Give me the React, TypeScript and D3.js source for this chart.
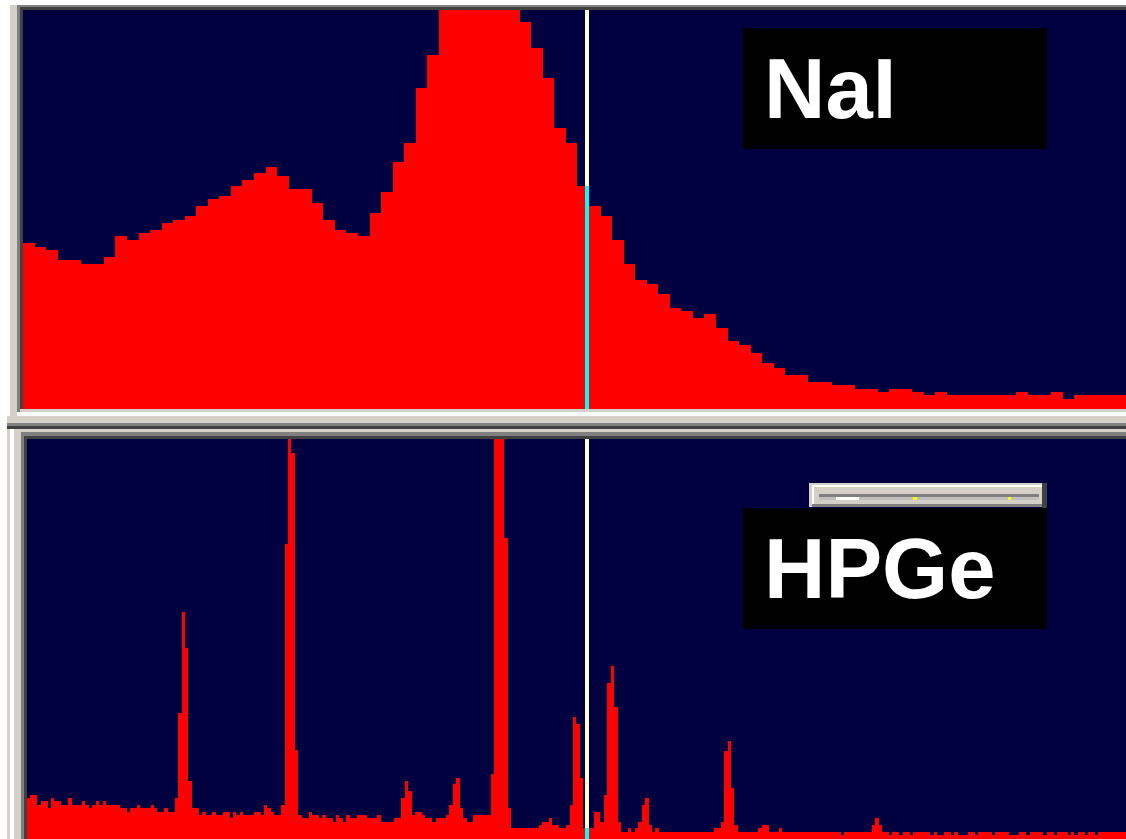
import * as d3 from "d3";
import React from "react";

// NaI spectrum, counts per channel (top panel, peak is off scale)
const naiCounts = [
  166, 162, 159, 149, 149, 145, 145, 152, 173, 169,
  176, 179, 186, 189, 193, 203, 210, 213, 223, 229,
  236, 242, 233, 220, 220, 206, 189, 179, 176, 173,
  196, 217, 247, 266, 321, 354, 415, 445, 468, 476,
  462, 437, 408, 387, 361, 331, 281, 266, 223, 203,
  193, 169, 145, 129, 125, 115, 101, 98, 91, 95,
  81, 68, 64, 56, 46, 41, 34, 34, 27, 27,
  24, 24, 20, 20, 17, 20, 20, 17, 14, 17,
  14, 14, 14, 14, 14, 14, 17, 14, 14, 17,
  10, 14, 14, 14, 14, 14,
];

// HPGe spectrum, counts per channel (bottom panel)
const hpgeCounts = [
  41, 44, 44, 34, 38, 38, 31, 41, 38, 38,
  34, 34, 41, 34, 34, 34, 38, 34, 31, 34,
  38, 34, 38, 34, 34, 34, 34, 31, 31, 27,
  31, 31, 34, 31, 31, 31, 34, 31, 27, 27,
  31, 27, 27, 41, 126, 227, 191, 58, 31, 31,
  24, 27, 24, 24, 27, 24, 24, 27, 27, 21,
  27, 24, 27, 24, 24, 24, 27, 27, 24, 34,
  31, 27, 24, 24, 34, 295, 480, 386, 89, 24,
  21, 21, 27, 24, 24, 21, 24, 21, 21, 17,
  24, 21, 17, 24, 21, 21, 24, 24, 24, 21,
  21, 21, 24, 17, 17, 17, 17, 21, 21, 41,
  58, 48, 24, 27, 27, 24, 21, 21, 17, 21,
  21, 21, 24, 34, 55, 61, 31, 21, 17, 17,
  24, 24, 24, 24, 24, 65, 470, 500, 450, 301,
  31, 11, 11, 11, 11, 11, 11, 11, 11, 14,
  17, 17, 21, 14, 14, 11, 11, 14, 34, 122,
  115, 61, 11, 11, 11, 27, 27, 17, 44, 156,
  173, 132, 17, 7, 7, 11, 7, 11, 17, 34,
  41, 14, 7, 11, 7, 7, 7, 7, 7, 7,
  7, 7, 7, 7, 7, 7, 7, 7, 7, 7,
  11, 11, 17, 88, 98, 51, 14, 7, 7, 7,
  7, 7, 7, 11, 14, 14, 7, 7, 7, 11,
  7, 7, 7, 7, 7, 7, 7, 7, 7, 7,
  7, 7, 7, 7, 7, 7, 7, 4, 7, 7,
  7, 7, 7, 7, 7, 7, 14, 21, 14, 7,
  7, 4, 7, 7, 4, 7, 7, 4, 7, 7,
  7, 7, 7, 4, 7, 4, 4, 7, 7, 4,
  7, 4, 4, 4, 7, 7, 4, 7, 7, 7,
  7, 4, 7, 7, 7, 7, 4, 4, 4, 7,
  7, 4, 7, 7, 7, 7, 4, 7, 7, 4,
  7, 7, 7, 4, 7, 4, 7, 7, 4, 7,
  7, 4, 7, 7, 7, 7, 7, 7, 7, 7,
];

const detectorLabels = ["NaI", "HPGe"];
const cursorChannels = [48.66, 162.5]; // cursor position in each panel, channels

const NAVY = "#000040";
const LGRAY = "#d4d0c8";
const GRAY = "#808080";
const DARK = "#404040";

const W = 1126;
const H = 839;

function Spectrum({ id, counts, cursor, x0, y0, x1, y1, binW, yMax }) {
  const x = d3.scaleLinear().domain([0, counts.length]).range([x0, x0 + counts.length * binW]);
  const y = d3.scaleLinear().domain([0, yMax]).range([y1, y0]);

  const area = d3
    .area<number>()
    .x((d, i) => x(i))
    .y0(y(0))
    .y1((d) => y(d))
    .curve(d3.curveStepAfter);

  const pts = counts.concat([counts[counts.length - 1]]);
  const cx = x(cursor);
  const cv = counts[Math.floor(cursor)];

  return (
    <g>
      <clipPath id={id}>
        <rect x={x0} y={y0} width={x1 - x0} height={y1 - y0} />
      </clipPath>
      <rect x={x0} y={y0} width={x1 - x0} height={y1 - y0} fill={NAVY} />
      <g clipPath={`url(#${id})`}>
        <path d={area(pts)} fill="#ff0000" shapeRendering="crispEdges" />
        <rect x={cx} y={y0} width={4} height={y1 - y0} fill="#ffffcc" shapeRendering="crispEdges" />
        <rect x={cx} y={y(cv)} width={4} height={y1 - y(cv)} fill="#00ffff" shapeRendering="crispEdges" />
      </g>
    </g>
  );
}

function Label({ text, x, y, w, h }) {
  return (
    <g>
      <rect x={x} y={y} width={w} height={h} fill="#000" />
      <text
        x={x + 21}
        y={y + h - 31}
        fill="#fff"
        fontFamily="'Liberation Sans', Arial, sans-serif"
        fontWeight="bold"
        fontSize={85}
      >
        {text}
      </text>
    </g>
  );
}

function Slider() {
  // little scroll widget floating over the HPGe panel
  return (
    <g shapeRendering="crispEdges">
      <rect x={809} y={483} width={238} height={24} fill={LGRAY} />
      <rect x={812} y={485} width={230} height={2} fill="#fff" />
      <rect x={812} y={485} width={2} height={21} fill="#fff" />
      <rect x={812} y={504} width={230} height={3} fill={GRAY} />
      <rect x={1042} y={483} width={5} height={26} fill={DARK} />
      <rect x={819} y={494} width={220} height={3} fill={GRAY} />
      <rect x={819} y={497} width={220} height={3} fill="#c0c0c0" />
      <rect x={836} y={497} width={23} height={3} fill="#fff" />
      <rect x={913} y={497} width={4} height={3} fill="#ffff00" />
      <rect x={1008} y={497} width={3} height={3} fill="#ffff00" />
    </g>
  );
}

export default function App() {
  return (
    <div style={{ position: "absolute", left: 0, top: 0 }}>
      <svg width={W} height={H} style={{ display: "block", background: "#fff" }}>
        {/* window frame, top panel */}
        <g shapeRendering="crispEdges">
          <rect x={10} y={5} width={W - 10} height={424} fill={LGRAY} />
          <rect x={17} y={5} width={W - 17} height={2} fill={GRAY} />
          <rect x={17} y={5} width={3} height={407} fill={GRAY} />
          <rect x={20} y={7} width={W - 20} height={3} fill={DARK} />
          <rect x={20} y={7} width={3} height={402} fill={DARK} />
          <rect x={17} y={412} width={W - 17} height={4} fill="#fff" />
          {/* splitter + bottom panel frame */}
          <rect x={7} y={416} width={W - 7} height={H - 416} fill={LGRAY} />
          <rect x={7} y={423} width={W - 7} height={3} fill={GRAY} />
          <rect x={7} y={426} width={W - 7} height={3} fill={DARK} />
          <rect x={10} y={429} width={4} height={H - 429} fill="#fff" />
          <rect x={21} y={432} width={W - 21} height={4} fill={GRAY} />
          <rect x={21} y={432} width={3} height={H - 432} fill={GRAY} />
          <rect x={24} y={436} width={W - 24} height={3} fill={DARK} />
          <rect x={24} y={436} width={3} height={H - 436} fill={DARK} />
        </g>

        <Spectrum id="clip-nai" counts={naiCounts} cursor={cursorChannels[0]}
          x0={23} y0={10} x1={W} y1={409} binW={11.55} yMax={399} />
        <Spectrum id="clip-hpge" counts={hpgeCounts} cursor={cursorChannels[1]}
          x0={27} y0={439} x1={W} y1={H} binW={3.434} yMax={400} />

        <Label text={detectorLabels[0]} x={743} y={28} w={304} h={121} />
        <Slider />
        <Label text={detectorLabels[1]} x={743} y={508} w={304} h={121} />
      </svg>
    </div>
  );
}
